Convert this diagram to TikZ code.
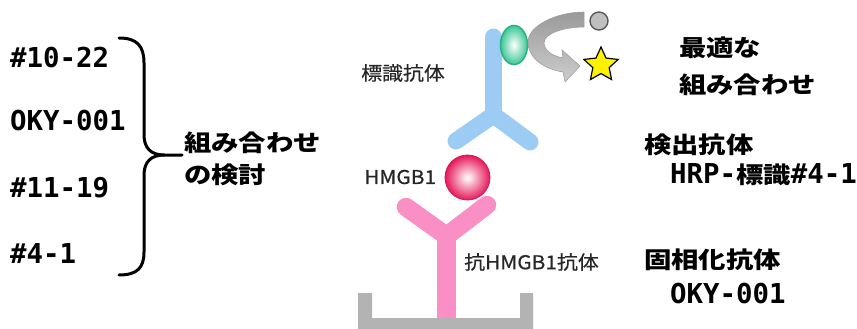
\documentclass[tikz,border=0pt]{standalone}
\usepackage{fontspec}
\usetikzlibrary{shapes.geometric}
\newfontfamily\jp{Noto Sans CJK JP}[FakeStretch=1.1, FakeBold=0.6]
\newfontfamily\jpw{Noto Sans CJK JP}[FakeStretch=1.19]
\newfontfamily\mono{DejaVu Sans Mono}

\definecolor{abblue}{HTML}{9CCBF3}
\definecolor{abpink}{HTML}{F98FC4}
\definecolor{plategray}{HTML}{B3B3B3}
\definecolor{tagedge}{HTML}{2BB184}
\definecolor{tagfill}{HTML}{3CC896}
\definecolor{ballred}{HTML}{E6185A}
\definecolor{arrowdark}{HTML}{9A9A9A}
\definecolor{arrowlight}{HTML}{CDCDCD}

\newcommand{\cjkbold}{\jpw\bfseries\fontsize{23}{27}\selectfont}

\tikzset{
  big/.style={font=\cjkbold, inner sep=0pt, anchor=west},
  code/.style={font=\mono\bfseries\fontsize{27.4}{30}\selectfont, inner sep=0pt, anchor=base west},
  small/.style={font=\jp\fontsize{19}{22}\selectfont, inner sep=0pt, anchor=west, text=black!85},
  bracestroke/.style={line width=3pt, line cap=round, line join=round},
  blueab/.style={line width=17pt, line cap=round, draw=abblue},
  pinkab/.style={line width=18.5pt, line cap=round, draw=abpink},
}

\begin{document}
\begin{tikzpicture}[x=1pt, y=-1pt]
  \useasboundingbox (0,0) rectangle (857,329);

  % clone names on the left
  \node[code] (c1) at (10,67)  {\#10-22};
  \node[code] (c2) at (10,130) {OKY-001};
  \node[code] (c3) at (10,197) {\#11-19};
  \node[code] (c4) at (10,263) {\#4-1};

  % curly brace gathering the clones
  \draw[bracestroke] (119,38) .. controls (137,38) and (144,46) .. (144,63)
        -- (144,135) .. controls (144,148) and (151,155) .. (164,155) -- (182,155);
  \draw[bracestroke] (164,155) .. controls (151,155) and (144,162) .. (144,175)
        -- (144,252) .. controls (144,268) and (137,275) .. (119,275);

  \node[big] (combo1) at (184,142.5) {組み合わせ};
  \node[big] (combo2) at (184,175) {の検討};

  % solid-phase plate
  \fill[plategray] (358,293) -- (372,293) -- (372,318) -- (520,318) -- (520,293)
        -- (533,293) -- (533,329) -- (358,329) -- cycle;

  % capture antibody (pink)
  \coordinate (pj) at (446.5,236);
  \coordinate (pl) at (406,207);
  \coordinate (pr) at (487,205);
  \coordinate (pb) at (446.5,318);
  \draw[pinkab] (pl) -- (pj) -- (pr);
  \draw[pinkab, line cap=butt] (pj) -- (pb);

  % labelled detection antibody (blue)
  \coordinate (bt) at (493.5,37);
  \coordinate (bj) at (493.5,115);
  \coordinate (bl) at (456,141);
  \coordinate (br) at (530,142);
  \draw[blueab] (bt) -- (bj);
  \draw[blueab] (bl) -- (bj) -- (br);

  % HMGB1 antigen
  \shadedraw[inner color=white, outer color=ballred, draw=ballred!92!black, line width=0.8pt]
      (467.5,177.5) circle [radius=22.5];
  \node[circle, minimum size=45pt, inner sep=0pt] (hmgb) at (467.5,177.5) {};

  % HRP tag
  \shadedraw[inner color=white, outer color=tagfill, draw=tagedge, line width=1.5pt]
      (514,45) ellipse [x radius=13.5, y radius=19.5];
  \node[ellipse, minimum width=27pt, minimum height=39pt, inner sep=0pt] (tag) at (514,45) {};

  % substrate conversion arrow
  \shadedraw[top color=arrowdark, bottom color=arrowlight, draw=gray!75, line width=0.6pt]
      (584,12) .. controls (556,12) and (528,26) .. (528,42)
      .. controls (528,58) and (544,69) .. (563,72)
      -- (565,82) -- (580,66) -- (562,50) -- (563,58)
      .. controls (552,56) and (544,50) .. (544,43)
      .. controls (544,33) and (565,27) .. (584,27) -- cycle;

  \node[circle, minimum size=18pt, inner sep=0pt, fill=gray!50, draw=black!65, line width=1.4pt]
      (substrate) at (599,21) {};
  \node[star, star points=5, star point ratio=2.1, minimum size=36pt, inner sep=0pt,
        fill=yellow, draw=black, line width=1.2pt] (product) at (601,65) {};

  % diagram labels
  \node[small] (lbl1) at (361,73) {標識抗体};
  \node[small] (lbl2) at (364,177) {HMGB1};
  \node[small] (lbl3) at (464,262) {抗HMGB1抗体};

  % result on the right
  \node[big] (best1) at (679,48) {最適な};
  \node[big] (best2) at (679,85) {組み合わせ};
  \node[big] (det) at (644,145) {検出抗体};
  \node[code] (detname) at (670,183) {HRP-{\cjkbold 標識}\#4-1};
  \node[big] (cap) at (644,260) {固相化抗体};
  \node[code] (capname) at (670,303) {OKY-001};
\end{tikzpicture}
\end{document}
